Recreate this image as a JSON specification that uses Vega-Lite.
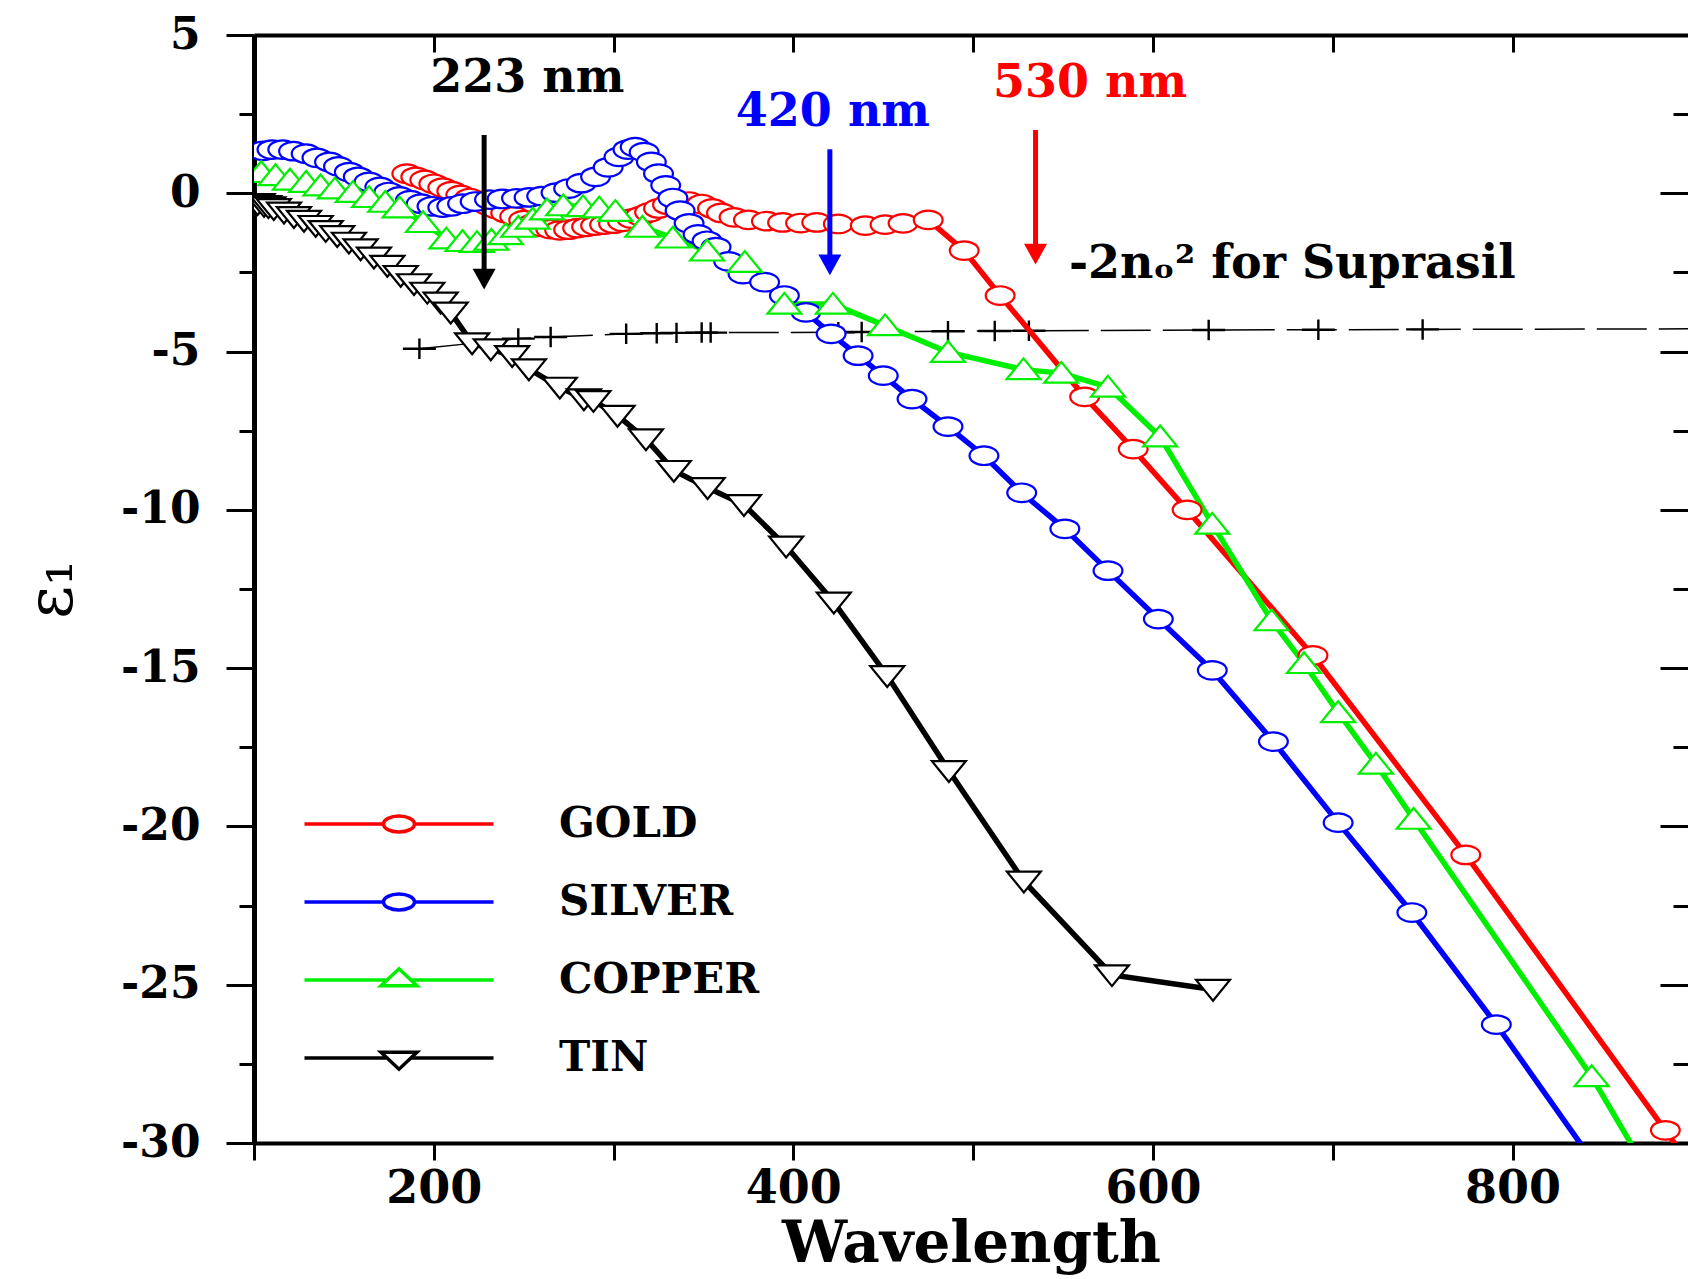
{
  "$schema": "https://vega.github.io/schema/vega-lite/v6.json",
  "width": 1434,
  "height": 1108,
  "autosize": {"type": "none"},
  "padding": {"left": 254, "top": 35, "right": 0, "bottom": 136},
  "background": "white",
  "config": {"view": {"stroke": null}, "font": "DejaVu Serif"},
  "datasets": {
    "metals": [
      {"metal": "GOLD", "wl": 185, "eps": 0.62}, {"metal": "GOLD", "wl": 190, "eps": 0.52}, {"metal": "GOLD", "wl": 195, "eps": 0.42}, {"metal": "GOLD", "wl": 200, "eps": 0.30}, {"metal": "GOLD", "wl": 205, "eps": 0.18}, {"metal": "GOLD", "wl": 210, "eps": 0.07}, {"metal": "GOLD", "wl": 215, "eps": -0.05}, {"metal": "GOLD", "wl": 220, "eps": -0.15}, {"metal": "GOLD", "wl": 225, "eps": -0.27}, {"metal": "GOLD", "wl": 230, "eps": -0.38}, {"metal": "GOLD", "wl": 235, "eps": -0.5}, {"metal": "GOLD", "wl": 240, "eps": -0.62}, {"metal": "GOLD", "wl": 245, "eps": -0.73}, {"metal": "GOLD", "wl": 250, "eps": -0.85}, {"metal": "GOLD", "wl": 255, "eps": -0.96}, {"metal": "GOLD", "wl": 260, "eps": -1.06}, {"metal": "GOLD", "wl": 265, "eps": -1.13}, {"metal": "GOLD", "wl": 270, "eps": -1.17}, {"metal": "GOLD", "wl": 275, "eps": -1.15}, {"metal": "GOLD", "wl": 280, "eps": -1.1}, {"metal": "GOLD", "wl": 285, "eps": -1.06}, {"metal": "GOLD", "wl": 290, "eps": -1.02}, {"metal": "GOLD", "wl": 295, "eps": -0.99}, {"metal": "GOLD", "wl": 300, "eps": -0.96}, {"metal": "GOLD", "wl": 305, "eps": -0.9}, {"metal": "GOLD", "wl": 310, "eps": -0.8}, {"metal": "GOLD", "wl": 315, "eps": -0.72}, {"metal": "GOLD", "wl": 320, "eps": -0.6}, {"metal": "GOLD", "wl": 325, "eps": -0.48}, {"metal": "GOLD", "wl": 330, "eps": -0.36}, {"metal": "GOLD", "wl": 336, "eps": -0.28}, {"metal": "GOLD", "wl": 342, "eps": -0.26}, {"metal": "GOLD", "wl": 349, "eps": -0.34}, {"metal": "GOLD", "wl": 355, "eps": -0.48}, {"metal": "GOLD", "wl": 360, "eps": -0.62}, {"metal": "GOLD", "wl": 367, "eps": -0.76}, {"metal": "GOLD", "wl": 375, "eps": -0.84}, {"metal": "GOLD", "wl": 385, "eps": -0.88}, {"metal": "GOLD", "wl": 394, "eps": -0.92}, {"metal": "GOLD", "wl": 404, "eps": -0.94}, {"metal": "GOLD", "wl": 413, "eps": -0.92}, {"metal": "GOLD", "wl": 425, "eps": -0.97}, {"metal": "GOLD", "wl": 440, "eps": -1.02}, {"metal": "GOLD", "wl": 451, "eps": -0.99}, {"metal": "GOLD", "wl": 461, "eps": -0.95}, {"metal": "GOLD", "wl": 475, "eps": -0.84}, {"metal": "GOLD", "wl": 495, "eps": -1.81}, {"metal": "GOLD", "wl": 515, "eps": -3.23}, {"metal": "GOLD", "wl": 562, "eps": -6.43}, {"metal": "GOLD", "wl": 589, "eps": -8.08}, {"metal": "GOLD", "wl": 619, "eps": -10.0}, {"metal": "GOLD", "wl": 689, "eps": -14.6}, {"metal": "GOLD", "wl": 774, "eps": -20.9}, {"metal": "GOLD", "wl": 885, "eps": -29.6}, {"metal": "GOLD", "wl": 905, "eps": -31.2},
      {"metal": "SILVER", "wl": 105, "eps": 1.34}, {"metal": "SILVER", "wl": 110, "eps": 1.38}, {"metal": "SILVER", "wl": 116, "eps": 1.38}, {"metal": "SILVER", "wl": 122, "eps": 1.33}, {"metal": "SILVER", "wl": 129, "eps": 1.25}, {"metal": "SILVER", "wl": 135, "eps": 1.12}, {"metal": "SILVER", "wl": 142, "eps": 0.99}, {"metal": "SILVER", "wl": 147, "eps": 0.85}, {"metal": "SILVER", "wl": 153, "eps": 0.67}, {"metal": "SILVER", "wl": 158, "eps": 0.52}, {"metal": "SILVER", "wl": 164, "eps": 0.36}, {"metal": "SILVER", "wl": 170, "eps": 0.2}, {"metal": "SILVER", "wl": 175, "eps": 0.04}, {"metal": "SILVER", "wl": 181, "eps": -0.1}, {"metal": "SILVER", "wl": 187, "eps": -0.22}, {"metal": "SILVER", "wl": 193, "eps": -0.33}, {"metal": "SILVER", "wl": 199, "eps": -0.41}, {"metal": "SILVER", "wl": 205, "eps": -0.45}, {"metal": "SILVER", "wl": 210, "eps": -0.41}, {"metal": "SILVER", "wl": 216, "eps": -0.33}, {"metal": "SILVER", "wl": 223, "eps": -0.26}, {"metal": "SILVER", "wl": 231, "eps": -0.2}, {"metal": "SILVER", "wl": 238, "eps": -0.18}, {"metal": "SILVER", "wl": 246, "eps": -0.16}, {"metal": "SILVER", "wl": 253, "eps": -0.13}, {"metal": "SILVER", "wl": 260, "eps": -0.09}, {"metal": "SILVER", "wl": 268, "eps": 0.02}, {"metal": "SILVER", "wl": 275, "eps": 0.15}, {"metal": "SILVER", "wl": 282, "eps": 0.32}, {"metal": "SILVER", "wl": 290, "eps": 0.52}, {"metal": "SILVER", "wl": 297, "eps": 0.82}, {"metal": "SILVER", "wl": 303, "eps": 1.15}, {"metal": "SILVER", "wl": 308, "eps": 1.38}, {"metal": "SILVER", "wl": 312, "eps": 1.46}, {"metal": "SILVER", "wl": 317, "eps": 1.3}, {"metal": "SILVER", "wl": 321, "eps": 0.99}, {"metal": "SILVER", "wl": 325, "eps": 0.62}, {"metal": "SILVER", "wl": 329, "eps": 0.25}, {"metal": "SILVER", "wl": 333, "eps": -0.15}, {"metal": "SILVER", "wl": 337, "eps": -0.55}, {"metal": "SILVER", "wl": 342, "eps": -0.95}, {"metal": "SILVER", "wl": 347, "eps": -1.3}, {"metal": "SILVER", "wl": 352, "eps": -1.5}, {"metal": "SILVER", "wl": 357, "eps": -1.7}, {"metal": "SILVER", "wl": 364, "eps": -2.15}, {"metal": "SILVER", "wl": 372, "eps": -2.55}, {"metal": "SILVER", "wl": 384, "eps": -2.81}, {"metal": "SILVER", "wl": 395, "eps": -3.23}, {"metal": "SILVER", "wl": 407, "eps": -3.76}, {"metal": "SILVER", "wl": 421, "eps": -4.44}, {"metal": "SILVER", "wl": 436, "eps": -5.13}, {"metal": "SILVER", "wl": 450, "eps": -5.76}, {"metal": "SILVER", "wl": 466, "eps": -6.5}, {"metal": "SILVER", "wl": 486, "eps": -7.37}, {"metal": "SILVER", "wl": 506, "eps": -8.29}, {"metal": "SILVER", "wl": 527, "eps": -9.46}, {"metal": "SILVER", "wl": 551, "eps": -10.6}, {"metal": "SILVER", "wl": 575, "eps": -11.92}, {"metal": "SILVER", "wl": 603, "eps": -13.45}, {"metal": "SILVER", "wl": 633, "eps": -15.07}, {"metal": "SILVER", "wl": 667, "eps": -17.32}, {"metal": "SILVER", "wl": 703, "eps": -19.88}, {"metal": "SILVER", "wl": 744, "eps": -22.72}, {"metal": "SILVER", "wl": 791, "eps": -26.26}, {"metal": "SILVER", "wl": 850, "eps": -31.0},
      {"metal": "COPPER", "wl": 104, "eps": 0.66}, {"metal": "COPPER", "wl": 112, "eps": 0.56}, {"metal": "COPPER", "wl": 120, "eps": 0.42}, {"metal": "COPPER", "wl": 129, "eps": 0.35}, {"metal": "COPPER", "wl": 137, "eps": 0.24}, {"metal": "COPPER", "wl": 145, "eps": 0.14}, {"metal": "COPPER", "wl": 155, "eps": 0.03}, {"metal": "COPPER", "wl": 164, "eps": -0.13}, {"metal": "COPPER", "wl": 173, "eps": -0.28}, {"metal": "COPPER", "wl": 181, "eps": -0.46}, {"metal": "COPPER", "wl": 194, "eps": -0.92}, {"metal": "COPPER", "wl": 207, "eps": -1.44}, {"metal": "COPPER", "wl": 216, "eps": -1.52}, {"metal": "COPPER", "wl": 224, "eps": -1.55}, {"metal": "COPPER", "wl": 232, "eps": -1.48}, {"metal": "COPPER", "wl": 240, "eps": -1.3}, {"metal": "COPPER", "wl": 247, "eps": -1.07}, {"metal": "COPPER", "wl": 255, "eps": -0.81}, {"metal": "COPPER", "wl": 263, "eps": -0.52}, {"metal": "COPPER", "wl": 272, "eps": -0.39}, {"metal": "COPPER", "wl": 283, "eps": -0.42}, {"metal": "COPPER", "wl": 292, "eps": -0.46}, {"metal": "COPPER", "wl": 301, "eps": -0.57}, {"metal": "COPPER", "wl": 316, "eps": -1.07}, {"metal": "COPPER", "wl": 333, "eps": -1.41}, {"metal": "COPPER", "wl": 352, "eps": -1.82}, {"metal": "COPPER", "wl": 373, "eps": -2.18}, {"metal": "COPPER", "wl": 395, "eps": -3.5}, {"metal": "COPPER", "wl": 422, "eps": -3.5}, {"metal": "COPPER", "wl": 451, "eps": -4.18}, {"metal": "COPPER", "wl": 486, "eps": -5.02}, {"metal": "COPPER", "wl": 528, "eps": -5.57}, {"metal": "COPPER", "wl": 549, "eps": -5.68}, {"metal": "COPPER", "wl": 575, "eps": -6.12}, {"metal": "COPPER", "wl": 604, "eps": -7.69}, {"metal": "COPPER", "wl": 633, "eps": -10.45}, {"metal": "COPPER", "wl": 666, "eps": -13.5}, {"metal": "COPPER", "wl": 684, "eps": -14.85}, {"metal": "COPPER", "wl": 703, "eps": -16.4}, {"metal": "COPPER", "wl": 724, "eps": -18.03}, {"metal": "COPPER", "wl": 745, "eps": -19.77}, {"metal": "COPPER", "wl": 844, "eps": -27.9}, {"metal": "COPPER", "wl": 875, "eps": -30.9},
      {"metal": "TIN", "wl": 102, "eps": -0.33}, {"metal": "TIN", "wl": 105.6, "eps": -0.39}, {"metal": "TIN", "wl": 108, "eps": -0.43}, {"metal": "TIN", "wl": 111, "eps": -0.49}, {"metal": "TIN", "wl": 116.7, "eps": -0.6}, {"metal": "TIN", "wl": 122.2, "eps": -0.74}, {"metal": "TIN", "wl": 127.8, "eps": -0.86}, {"metal": "TIN", "wl": 134.3, "eps": -1.02}, {"metal": "TIN", "wl": 139.9, "eps": -1.18}, {"metal": "TIN", "wl": 146.3, "eps": -1.34}, {"metal": "TIN", "wl": 152.8, "eps": -1.55}, {"metal": "TIN", "wl": 159.3, "eps": -1.76}, {"metal": "TIN", "wl": 166.7, "eps": -2.02}, {"metal": "TIN", "wl": 174.2, "eps": -2.28}, {"metal": "TIN", "wl": 181.6, "eps": -2.6}, {"metal": "TIN", "wl": 189, "eps": -2.86}, {"metal": "TIN", "wl": 196.4, "eps": -3.13}, {"metal": "TIN", "wl": 203.8, "eps": -3.44}, {"metal": "TIN", "wl": 209.4, "eps": -3.76}, {"metal": "TIN", "wl": 221.3, "eps": -4.73}, {"metal": "TIN", "wl": 231.7, "eps": -4.92}, {"metal": "TIN", "wl": 243.6, "eps": -5.13}, {"metal": "TIN", "wl": 252.9, "eps": -5.55}, {"metal": "TIN", "wl": 270.1, "eps": -6.13}, {"metal": "TIN", "wl": 283.5, "eps": -6.5}, {"metal": "TIN", "wl": 288.8, "eps": -6.55}, {"metal": "TIN", "wl": 302.2, "eps": -7.02}, {"metal": "TIN", "wl": 318, "eps": -7.76}, {"metal": "TIN", "wl": 333.5, "eps": -8.76}, {"metal": "TIN", "wl": 352.3, "eps": -9.3}, {"metal": "TIN", "wl": 372.5, "eps": -9.84}, {"metal": "TIN", "wl": 396, "eps": -11.15}, {"metal": "TIN", "wl": 422.5, "eps": -12.92}, {"metal": "TIN", "wl": 452.2, "eps": -15.24}, {"metal": "TIN", "wl": 486.5, "eps": -18.24}, {"metal": "TIN", "wl": 528.2, "eps": -21.73}, {"metal": "TIN", "wl": 577.2, "eps": -24.69}, {"metal": "TIN", "wl": 633.4, "eps": -25.15}
    ],
    "suprasil": [
      {"wl": 192, "eps": -4.91}, {"wl": 247, "eps": -4.59}, {"wl": 265, "eps": -4.54}, {"wl": 307, "eps": -4.44}, {"wl": 324, "eps": -4.42}, {"wl": 335, "eps": -4.41}, {"wl": 349, "eps": -4.40}, {"wl": 354, "eps": -4.40}, {"wl": 425, "eps": -4.39}, {"wl": 438, "eps": -4.38}, {"wl": 486, "eps": -4.36}, {"wl": 512, "eps": -4.35}, {"wl": 531, "eps": -4.34}, {"wl": 631, "eps": -4.32}, {"wl": 692, "eps": -4.31}, {"wl": 750, "eps": -4.30}, {"wl": 912, "eps": -4.28}
    ],
    "arrows": [
      {"metal": "TIN", "wl": 228, "top": 1.84, "tip": -3.03, "label": "223 nm", "lx": 252, "ly": 3.64},
      {"metal": "SILVER", "wl": 420.3, "top": 1.39, "tip": -2.58, "label": "420 nm", "lx": 422, "ly": 2.58},
      {"metal": "GOLD", "wl": 534.7, "top": 2.0, "tip": -2.24, "label": "530 nm", "lx": 565, "ly": 3.47}
    ],
    "note": [
      {"wl": 553.3, "eps": -2.22, "text": "-2nₒ² for Suprasil"}
    ]
  },
  "resolve": {"axis": {"x": "independent", "y": "independent"}},
  "layer": [
    {
      "data": {"name": "suprasil"},
      "mark": {"type": "line", "color": "black", "strokeWidth": 1.5, "strokeDash": [50, 12], "clip": true},
      "encoding": {
        "x": {"field": "wl", "type": "quantitative", "scale": {"domain": [100, 897.6], "nice": false, "zero": false},
          "axis": {"orient": "top", "labels": false, "title": null, "grid": false, "values": [100, 200, 300, 400, 500, 600, 700, 800], "tickSize": -17, "tickWidth": 3, "tickColor": "black", "domainWidth": 4, "domainColor": "black"}},
        "y": {"field": "eps", "type": "quantitative", "scale": {"domain": [-30, 5], "nice": false, "zero": false},
          "axis": {"orient": "right", "labels": false, "title": null, "grid": false, "domain": false, "values": [-30, -27.5, -25, -22.5, -20, -17.5, -15, -12.5, -10, -7.5, -5, -2.5, 0, 2.5, 5], "tickSize": {"condition": {"test": "datum.value % 5 === 0", "value": -28}, "value": -15}, "tickWidth": 3, "tickColor": "black"}}
      }
    },
    {
      "data": {"name": "suprasil"},
      "mark": {"type": "point", "shape": "M-1,0L1,0M0,-0.62L0,0.62", "size": 1089, "filled": false, "stroke": "black", "strokeWidth": 2.4, "opacity": 1, "clip": true},
      "encoding": {
        "x": {"field": "wl", "type": "quantitative", "axis": null},
        "y": {"field": "eps", "type": "quantitative", "axis": null}
      }
    },
    {
      "data": {"name": "metals"},
      "mark": {"type": "line", "strokeWidth": 5.5, "clip": true},
      "encoding": {
        "x": {"field": "wl", "type": "quantitative", "title": "Wavelength",
          "axis": {"orient": "bottom", "grid": false, "values": [100, 200, 300, 400, 500, 600, 700, 800], "labelExpr": "datum.value % 200 === 0 ? '' + datum.value : ''", "tickSize": 17, "tickWidth": 3, "tickColor": "black", "domainWidth": 4, "domainColor": "black", "labelFont": "DejaVu Serif", "labelFontWeight": "bold", "labelFontSize": 46, "labelColor": "black", "labelPadding": 6, "titleFont": "DejaVu Serif", "titleFontWeight": "bold", "titleFontSize": 58, "titleColor": "black", "titlePadding": 4}},
        "y": {"field": "eps", "type": "quantitative", "title": "ε₁",
          "axis": {"orient": "left", "grid": false, "values": [-30, -27.5, -25, -22.5, -20, -17.5, -15, -12.5, -10, -7.5, -5, -2.5, 0, 2.5, 5], "labelExpr": "datum.value % 5 === 0 ? '' + datum.value : ''", "tickSize": {"condition": {"test": "datum.value % 5 === 0", "value": 28}, "value": 15}, "tickWidth": 3, "tickColor": "black", "domainWidth": 5, "domainColor": "black", "labelFont": "DejaVu Serif", "labelFontWeight": "bold", "labelFontSize": 44, "labelColor": "black", "labelPadding": 26, "titleFont": "DejaVu Serif", "titleFontWeight": "normal", "titleFontSize": 64, "titleColor": "black", "titlePadding": 36}},
        "stroke": {"field": "metal", "type": "nominal",
          "scale": {"domain": ["GOLD", "SILVER", "COPPER", "TIN"], "range": ["#ff0000", "#0000ff", "#00ee00", "#000000"]},
          "legend": {"title": null, "orient": "none", "legendX": 50, "legendY": 767, "padding": 0, "symbolSize": 1600, "symbolStrokeWidth": 3.5, "symbolOffset": 73, "labelFont": "DejaVu Serif", "labelFontWeight": "bold", "labelFontSize": 42, "labelColor": "black", "labelOffset": 138, "labelLimit": 600, "rowPadding": 35,
            "encode": {"symbols": {"update": {
              "shape": {"signal": "datum.value === 'COPPER' ? 'M-4.725,0L-0.6,0M0.6,0L4.725,0M0,-0.56L0.9,0.29L-0.9,0.29Z' : datum.value === 'TIN' ? 'M-4.725,0L-0.6,0M0.6,0L4.725,0M-0.9,-0.29L0.9,-0.29L0,0.56Z' : 'M-4.725,0L-0.775,0M0.775,0L4.725,0M-0.775,0A0.775,0.4,0,1,1,0.775,0A0.775,0.4,0,1,1,-0.775,0Z'"},
              "fill": {"value": "white"},
              "strokeWidth": {"value": 3.5},
              "opacity": {"value": 1}
            }}}}
        }
      }
    },
    {
      "data": {"name": "metals"},
      "mark": {"type": "point", "filled": false, "fill": "white", "strokeWidth": 2.2, "size": 1024, "opacity": 1, "clip": true},
      "encoding": {
        "x": {"field": "wl", "type": "quantitative", "axis": null},
        "y": {"field": "eps", "type": "quantitative", "axis": null},
        "color": {"field": "metal", "type": "nominal", "legend": null,
          "scale": {"range": ["#00ee00", "#ff0000", "#0000ff", "#000000"]}},
        "shape": {"field": "metal", "type": "nominal", "legend": null,
          "scale": {"range": ["M0,-0.7L1.06,0.6L-1.06,0.6Z", "M-0.9,0A0.9,0.58,0,1,1,0.9,0A0.9,0.58,0,1,1,-0.9,0Z", "M-0.9,0A0.9,0.58,0,1,1,0.9,0A0.9,0.58,0,1,1,-0.9,0Z", "M-1.06,-0.6L1.06,-0.6L0,0.7Z"]}}
      }
    },
    {
      "data": {"name": "arrows"},
      "mark": {"type": "rule", "strokeWidth": 5, "y2Offset": -16},
      "encoding": {
        "x": {"field": "wl", "type": "quantitative", "axis": null},
        "y": {"field": "top", "type": "quantitative", "axis": null},
        "y2": {"field": "tip"},
        "color": {"field": "metal", "type": "nominal", "legend": null}
      }
    },
    {
      "data": {"name": "arrows"},
      "mark": {"type": "point", "shape": "M-1,-0.9L1,-0.9L0,0.9Z", "size": 529, "filled": true, "opacity": 1, "yOffset": -10},
      "encoding": {
        "x": {"field": "wl", "type": "quantitative", "axis": null},
        "y": {"field": "tip", "type": "quantitative", "axis": null},
        "color": {"field": "metal", "type": "nominal", "legend": null}
      }
    },
    {
      "data": {"name": "arrows"},
      "mark": {"type": "text", "font": "DejaVu Serif", "fontWeight": "bold", "fontSize": 46, "align": "center", "baseline": "middle"},
      "encoding": {
        "x": {"field": "lx", "type": "quantitative", "axis": null},
        "y": {"field": "ly", "type": "quantitative", "axis": null},
        "text": {"field": "label"},
        "color": {"field": "metal", "type": "nominal", "legend": null}
      }
    },
    {
      "data": {"name": "note"},
      "mark": {"type": "text", "font": "DejaVu Serif", "fontWeight": "bold", "fontSize": 46, "align": "left", "baseline": "middle", "color": "black"},
      "encoding": {
        "x": {"field": "wl", "type": "quantitative", "axis": null},
        "y": {"field": "eps", "type": "quantitative", "axis": null},
        "text": {"field": "text"}
      }
    }
  ]
}
